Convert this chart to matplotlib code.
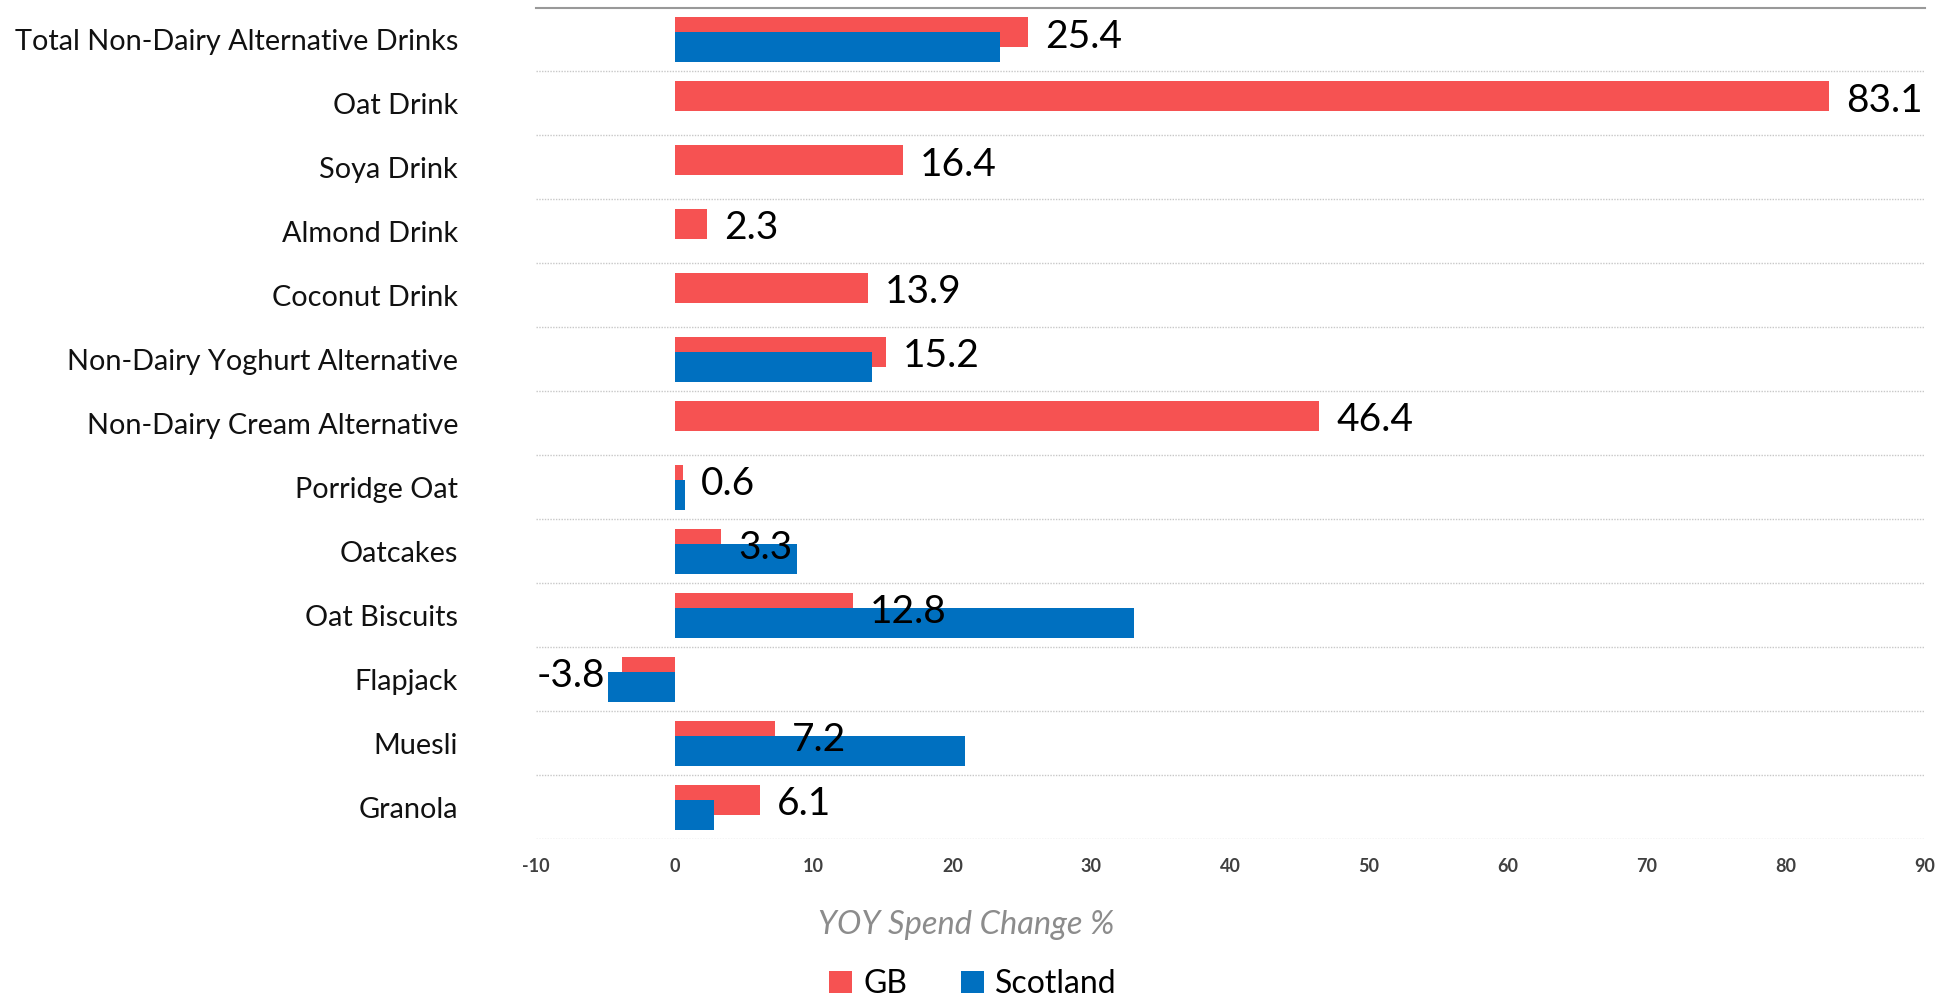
import numpy as np
import matplotlib
matplotlib.use("Agg")
import matplotlib.pyplot as plt
from matplotlib.patches import Patch

plt.rcParams['font.family'] = ['Lato', 'DejaVu Sans']

categories = ["Total Non-Dairy Alternative Drinks", "Oat Drink", "Soya Drink", "Almond Drink",
              "Coconut Drink", "Non-Dairy Yoghurt Alternative", "Non-Dairy Cream Alternative",
              "Porridge Oat", "Oatcakes", "Oat Biscuits", "Flapjack", "Muesli", "Granola"]
gb = [25.4, 83.1, 16.4, 2.3, 13.9, 15.2, 46.4, 0.6, 3.3, 12.8, -3.8, 7.2, 6.1]
scotland = [23.4, np.nan, np.nan, np.nan, np.nan, 14.2, np.nan, 0.75, 8.8, 33.1, -4.8, 20.9, 2.8]
xticks = [-10, 0, 10, 20, 30, 40, 50, 60, 70, 80, 90]

RED = '#F65252'
BLUE = '#0070C0'

fig = plt.figure(figsize=(19.46, 10), dpi=100)
ax = fig.add_axes([0.2754, 0.161, 0.989 - 0.2754, 0.9925 - 0.161])

y = np.arange(len(categories))
h = 0.47
gb_arr = np.array(gb, dtype=float)
sc_arr = np.array(scotland, dtype=float)
ax.barh(y - 0.115, gb_arr, height=h, color=RED, zorder=2)
m = ~np.isnan(sc_arr)
ax.barh(y[m] + 0.12, sc_arr[m], height=h, color=BLUE, zorder=3)

for yi, v in zip(y, gb_arr):
    off = 12.5 if v >= 0 else -12.5
    ax.annotate(f"{v:.1f}", xy=(v, yi - 0.045), xytext=(off, 0), textcoords='offset points',
                ha='left' if v >= 0 else 'right', va='center', fontsize=28, color='black', zorder=5)

ax.set_xlim(-10, 90)
ax.set_ylim(len(categories) - 0.5, -0.5)
ax.set_xticks(xticks)
ax.set_xticklabels([str(t) for t in xticks], fontsize=13, fontweight='bold', color='#404040')
ax.set_yticks(y)
ax.set_yticklabels(categories, fontsize=20.8, color='#111111')
ax.set_yticks(np.arange(-0.5, len(categories) + 0.5, 1), minor=True)
ax.tick_params(axis='y', which='both', length=0, pad=56)
ax.tick_params(axis='x', length=0, pad=14)
ax.grid(which='minor', axis='y', linestyle=(0, (1, 1)), color='#C8C8C8', linewidth=1.0, zorder=0)
for s in ['left', 'right', 'bottom']:
    ax.spines[s].set_visible(False)
ax.spines['top'].set_color('#999999')
ax.spines['top'].set_linewidth(1.5)

fig.text(0.4965, 0.075, "YOY Spend Change %", ha='center', va='center', fontsize=23.5,
         style='italic', color='#8C8C8C')

handles = [Patch(facecolor=RED, label='GB'), Patch(facecolor=BLUE, label='Scotland')]
fig.legend(handles=handles, loc='center', bbox_to_anchor=(0.5, 0.016), ncol=2, frameon=False,
           fontsize=23, handlelength=0.72, handleheight=0.7, handletextpad=0.33, columnspacing=1.7)

fig.savefig('out.png', dpi=100)
